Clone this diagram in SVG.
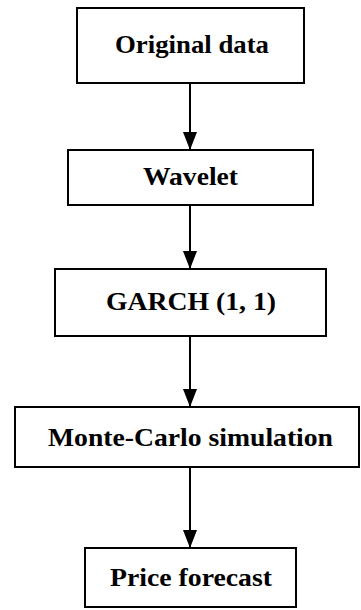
<svg xmlns="http://www.w3.org/2000/svg" width="361" height="610" viewBox="0 0 361 610">
<style>
.box{fill:#fff;stroke:#000;stroke-width:2}
.lbl{font-family:"Liberation Serif","Times New Roman",serif;font-weight:bold;font-size:25px;fill:#000;text-anchor:middle}
.edge{stroke:#000;stroke-width:2;fill:none}
</style>
<defs>
<marker id="arr" markerUnits="userSpaceOnUse" markerWidth="20" markerHeight="16" refX="18" refY="7" orient="auto" viewBox="0 0 20 14">
<path d="M0,0 L18,7 L0,14 Z" fill="#000"/>
</marker>
</defs>
<rect width="361" height="610" fill="#fff"/>
<g id="connectors">
<line class="edge" x1="190" y1="83" x2="190" y2="150" marker-end="url(#arr)"/>
<line class="edge" x1="190" y1="205" x2="190" y2="269" marker-end="url(#arr)"/>
<line class="edge" x1="190" y1="336" x2="190" y2="407" marker-end="url(#arr)"/>
<line class="edge" x1="190" y1="467" x2="190" y2="548" marker-end="url(#arr)"/>
</g>
<g id="n1">
<rect class="box" x="77" y="8" width="227" height="75"/>
<text class="lbl" x="192" y="53" textLength="154" lengthAdjust="spacingAndGlyphs">Original data</text>
</g>
<g id="n2">
<rect class="box" x="68" y="150" width="245" height="55"/>
<text class="lbl" x="190.5" y="185" textLength="95" lengthAdjust="spacingAndGlyphs">Wavelet</text>
</g>
<g id="n3">
<rect class="box" x="55" y="269" width="271" height="67"/>
<text class="lbl" x="191" y="310" textLength="170" lengthAdjust="spacingAndGlyphs">GARCH (1, 1)</text>
</g>
<g id="n4">
<rect class="box" x="15" y="407" width="344" height="60"/>
<text class="lbl" x="190.5" y="446" textLength="285" lengthAdjust="spacingAndGlyphs">Monte-Carlo simulation</text>
</g>
<g id="n5">
<rect class="box" x="85" y="548" width="211" height="59"/>
<text class="lbl" x="191" y="586" textLength="162" lengthAdjust="spacingAndGlyphs">Price forecast</text>
</g>
</svg>
